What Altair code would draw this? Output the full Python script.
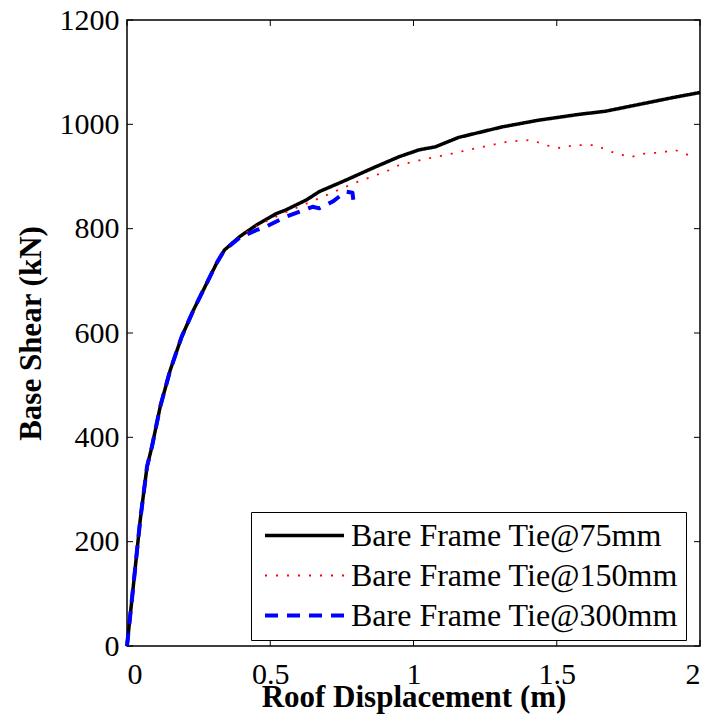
import altair as alt
import pandas as pd

# ---- data ----
names = ["Bare Frame Tie@75mm", "Bare Frame Tie@150mm", "Bare Frame Tie@300mm"]

x75 = [0, 0.023, 0.046, 0.070, 0.087, 0.116, 0.151, 0.191, 0.232, 0.278, 0.313, 0.340,
       0.394, 0.452, 0.522, 0.555, 0.626, 0.671, 0.764, 0.857, 0.950, 1.019, 1.077,
       1.158, 1.309, 1.437, 1.576, 1.669, 1.750, 1.912, 2.0]
y75 = [0, 120, 241, 344, 382, 459, 529, 593, 644, 695, 734, 759,
       785, 807, 829, 836, 855, 871, 893, 916, 938, 951, 957,
       975, 995, 1008, 1019, 1025, 1034, 1052, 1061]

x150 = [0, 0.023, 0.046, 0.070, 0.087, 0.116, 0.151, 0.191, 0.232, 0.278, 0.313, 0.340,
        0.394, 0.452, 0.532, 0.683, 0.787, 0.915, 0.950, 1.054, 1.135, 1.216, 1.332,
        1.413, 1.460, 1.518, 1.558, 1.634, 1.692, 1.755, 1.808, 1.865, 1.912, 1.970]
y150 = [0, 120, 241, 344, 382, 459, 529, 593, 644, 695, 734, 759,
        785, 805, 826, 861, 886, 912, 922, 935, 944, 954, 967,
        970, 960, 954, 960, 960, 947, 937, 944, 946, 951, 939]

x300 = [0, 0.023, 0.046, 0.070, 0.087, 0.116, 0.151, 0.191, 0.232, 0.278, 0.313, 0.340,
        0.394, 0.451, 0.486, 0.555, 0.648, 0.671, 0.718, 0.764, 0.787, 0.790]
y300 = [0, 120, 241, 344, 382, 459, 529, 593, 644, 695, 734, 759,
        783, 797, 804, 823, 842, 839, 852, 871, 869, 855]

x_ticks = [0, 0.5, 1, 1.5, 2]
y_ticks = [0, 200, 400, 600, 800, 1000, 1200]

colors = ["#000000", "#ff0000", "#0000ff"]
dashes = [[1, 0], [2, 9], [13, 9]]
widths = [3.5, 1.8, 4]

rows = []
for name, xs_, ys_ in zip(names, [x75, x150, x300], [y75, y150, y300]):
    for i, (a, b) in enumerate(zip(xs_, ys_)):
        rows.append({"series": name, "x": a, "y": b, "order": i})
df = pd.DataFrame(rows)

W, H = 573, 626
FONT = "Liberation Serif"

xscale = alt.Scale(domain=[0, 2], nice=False, zero=False)
yscale = alt.Scale(domain=[0, 1200], nice=False, zero=False)

legend = alt.Legend(
    title=None, orient="none", legendX=124, legendY=492,
    symbolType="stroke", symbolSize=79 * 79, symbolOffset=4, clipHeight=31,
    labelFont=FONT, labelFontSize=32, labelColor="black", labelLimit=0,
    labelOffset=5, strokeColor="black", fillColor="white",
    padding=8, rowPadding=7, cornerRadius=0,
)

enc = dict(
    x=alt.X("x:Q", scale=xscale,
            axis=alt.Axis(values=x_ticks, format="~g", title="Roof Displacement (m)",
                          labelPadding=13, titlePadding=-7)),
    y=alt.Y("y:Q", scale=yscale,
            axis=alt.Axis(values=y_ticks, format="d", title="Base Shear (kN)",
                          labelPadding=8, titlePadding=12)),
    color=alt.Color("series:N", scale=alt.Scale(domain=names, range=colors), legend=legend),
    strokeDash=alt.StrokeDash("series:N", scale=alt.Scale(domain=names, range=dashes), legend=legend),
    strokeWidth=alt.StrokeWidth("series:N",
                                scale=alt.Scale(type="ordinal", domain=names, range=widths),
                                legend=legend),
    order="order:Q",
)

layers = []
for name in names:
    layers.append(
        alt.Chart(df).transform_filter(alt.datum.series == name)
        .mark_line(strokeJoin="round", strokeCap="butt")
        .encode(**enc)
    )

xt = pd.DataFrame({"t": x_ticks})
yt = pd.DataFrame({"t": y_ticks})
tick_style = dict(color="black", strokeWidth=1)
bottom_ticks = alt.Chart(xt).mark_rule(**tick_style).encode(
    x=alt.X("t:Q", scale=xscale), y=alt.value(H), y2=alt.value(H - 6))
top_ticks = alt.Chart(xt).mark_rule(**tick_style).encode(
    x=alt.X("t:Q", scale=xscale), y=alt.value(0), y2=alt.value(6))
left_ticks = alt.Chart(yt).mark_rule(**tick_style).encode(
    y=alt.Y("t:Q", scale=yscale), x=alt.value(0), x2=alt.value(6))
right_ticks = alt.Chart(yt).mark_rule(**tick_style).encode(
    y=alt.Y("t:Q", scale=yscale), x=alt.value(W), x2=alt.value(W - 6))

chart = alt.layer(
    bottom_ticks, top_ticks, left_ticks, right_ticks, *layers
).properties(
    width=W, height=H,
    autosize=alt.AutoSizeParams(type="none"),
    padding={"left": 119, "top": 12, "right": 1, "bottom": 70},
).configure_view(
    stroke="black", strokeWidth=1.5
).configure_axis(
    labelFont=FONT, labelFontSize=30, labelColor="black",
    titleFont=FONT, titleFontSize=31, titleFontWeight="bold", titleColor="black",
    grid=False, domain=False, ticks=False, tickSize=0,
)

chart.save("out.html", embed_options={"renderer": "svg", "actions": False})
